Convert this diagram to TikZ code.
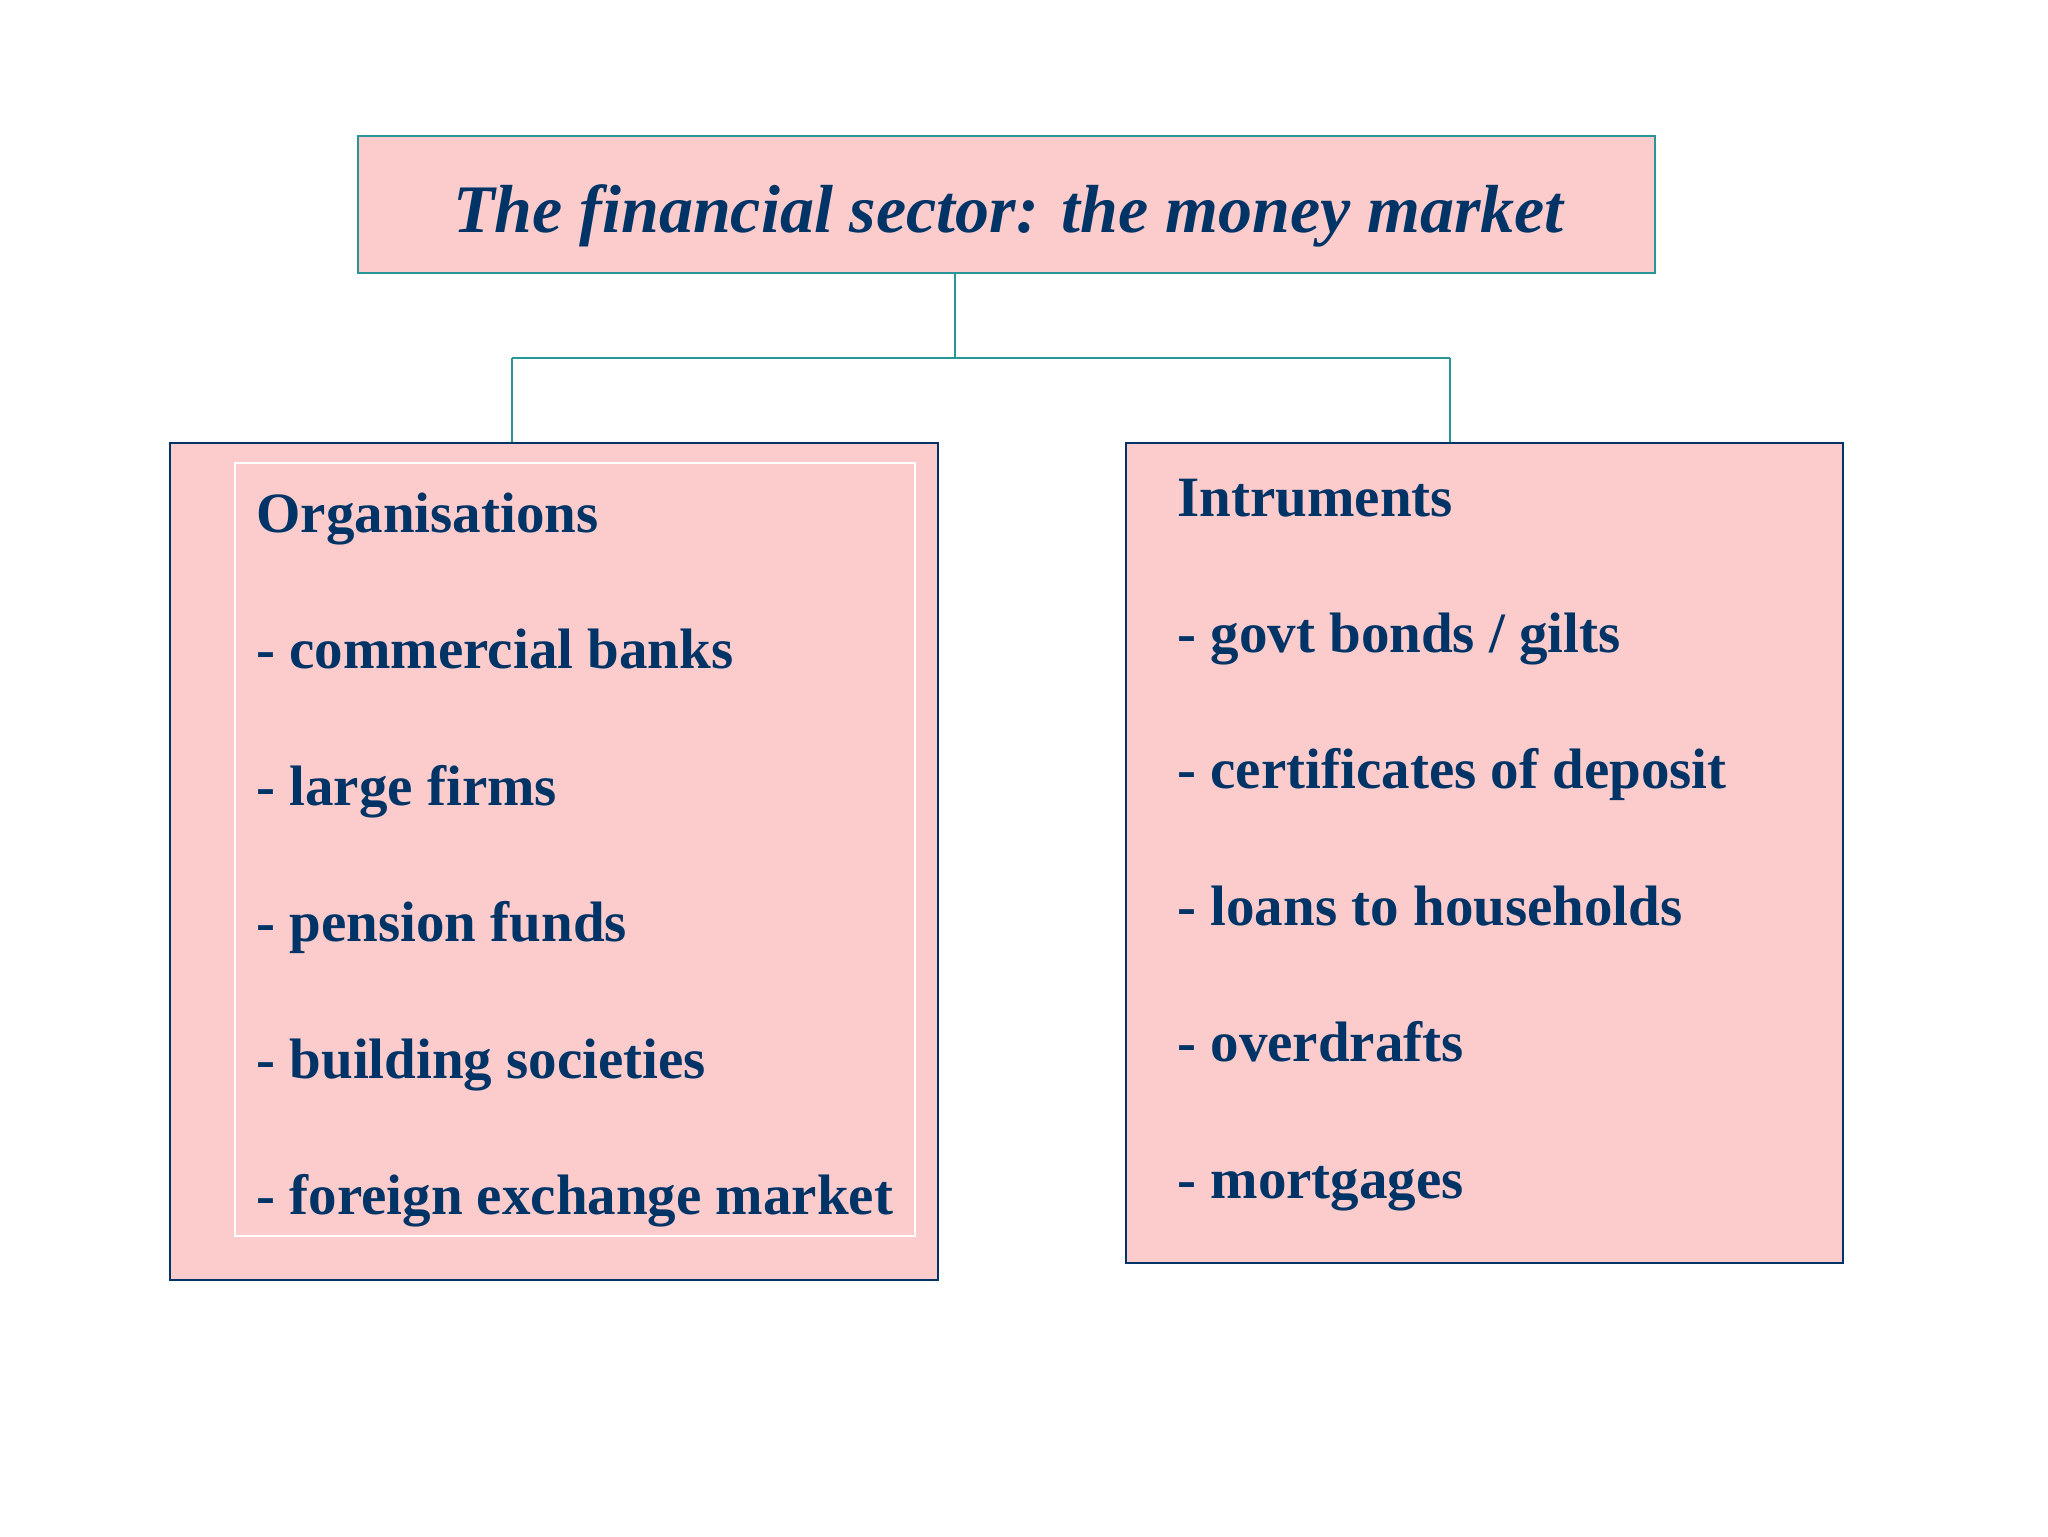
\documentclass[tikz,border=0pt]{standalone}
\usepackage{fontspec}
\setmainfont{Liberation Serif}
\definecolor{pinkfill}{RGB}{252,204,204}
\definecolor{navy}{RGB}{0,51,102}
\definecolor{tealline}{RGB}{40,150,150}
\begin{document}
\begin{tikzpicture}[x=0.5pt,y=-0.5pt,
  titlebox/.style={draw=tealline,line width=1pt,fill=pinkfill,inner sep=0pt},
  mainbox/.style={draw=navy,line width=1.2pt,fill=pinkfill,inner sep=0pt},
  innerframe/.style={draw=white,line width=0.8pt},
  link/.style={draw=tealline,line width=1pt},
  item/.style={anchor=base west,inner sep=0pt,text=navy,font=\fontsize{28.5}{34}\selectfont\bfseries},
  titletext/.style={anchor=base,inner sep=0pt,text=navy,font=\fontsize{34}{40}\selectfont\bfseries\itshape}]
\useasboundingbox[fill=white] (0,0) rectangle (2048,1536);
% boxes
\node[titlebox,minimum width=648.5pt,minimum height=68.5pt] (title) at (1006.5,204.5) {};
\node[mainbox,minimum width=384pt,minimum height=418.5pt] (lbox) at (554,861.5) {};
\node[mainbox,minimum width=358.5pt,minimum height=410pt] (rbox) at (1484.5,853) {};
\draw[innerframe] (235,463) rectangle (915,1236);
% title text
\node[titletext] (ttext) at (1008.5,232) {The financial sector: the money market};
% connectors
\coordinate (j) at (955,358);
\coordinate (jl) at (512,358);
\coordinate (jr) at (1450,358);
\draw[link] (j |- title.south) -- (j);
\draw[link] (jl) -- (jr);
\draw[link] (jl) -- (jl |- lbox.north);
\draw[link] (jr) -- (jr |- rbox.north);
% left items
\node[item] (l0) at (256,532) {Organisations};
\node[item] (l1) at (256,668.5) {- commercial banks};
\node[item] (l2) at (256,805) {- large firms};
\node[item] (l3) at (256,941.5) {- pension funds};
\node[item] (l4) at (256,1078) {- building societies};
\node[item] (l5) at (256,1214.5) {- foreign exchange market};
% right items
\node[item] (r0) at (1177,516) {Intruments};
\node[item] (r1) at (1177,652) {- govt bonds / gilts};
\node[item] (r2) at (1177,788.5) {- certificates of deposit};
\node[item] (r3) at (1177,925) {- loans to households};
\node[item] (r4) at (1177,1061.5) {- overdrafts};
\node[item] (r5) at (1177,1198) {- mortgages};
\end{tikzpicture}
\end{document}
